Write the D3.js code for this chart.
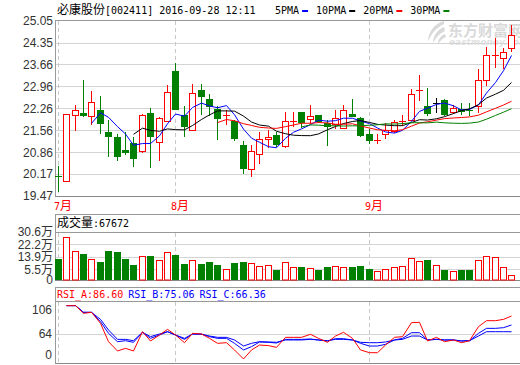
<!DOCTYPE html>
<html>
<head>
<meta charset="utf-8">
<script src="https://cdn.jsdelivr.net/npm/d3@7"></script>
<style>
  body { margin: 0; background: #fff; }
  svg { display: block; }
</style>
</head>
<body>
<svg id="chart" width="520" height="365"></svg>
<script>
// 必康股份 daily candles, 2016-07-12 .. 2016-09-28
const dates = [
  "2016-07-12","2016-07-13","2016-07-14","2016-07-15","2016-07-18","2016-07-19","2016-07-20",
  "2016-07-21","2016-07-22","2016-07-25","2016-07-26","2016-07-27","2016-07-28","2016-07-29",
  "2016-08-01","2016-08-02","2016-08-03","2016-08-04","2016-08-05","2016-08-08","2016-08-09",
  "2016-08-10","2016-08-11","2016-08-12","2016-08-15","2016-08-16","2016-08-17","2016-08-18",
  "2016-08-19","2016-08-22","2016-08-23","2016-08-24","2016-08-25","2016-08-26","2016-08-29",
  "2016-08-30","2016-08-31","2016-09-01","2016-09-02","2016-09-05","2016-09-06","2016-09-07",
  "2016-09-08","2016-09-09","2016-09-12","2016-09-13","2016-09-14","2016-09-19","2016-09-20",
  "2016-09-21","2016-09-22","2016-09-23","2016-09-26","2016-09-27","2016-09-28"
]
const open = [
  20.10,19.94,22.04,22.12,22.01,22.22,21.52,21.36,20.94,21.15,20.90,22.12,21.19,21.86,
  23.43,22.03,21.58,22.83,22.54,22.25,22.04,21.85,21.09,20.32,20.80,21.28,21.41,21.05,
  21.85,22.14,21.92,22.03,21.79,21.77,21.63,22.09,21.95,21.44,21.25,21.43,21.53,21.85,
  21.89,22.81,22.34,22.42,22.52,22.13,22.23,22.22,22.34,23.16,23.93,23.87,24.17
]
const high = [
  20.43,22.09,22.35,23.15,22.80,22.64,21.90,21.43,21.52,21.35,22.09,22.27,21.99,22.99,
  23.69,22.33,23.03,23.03,22.70,22.33,22.22,21.90,21.23,21.09,21.52,21.58,21.50,22.13,
  22.13,22.14,22.37,22.05,21.90,22.22,22.35,22.54,21.99,21.60,21.45,21.79,21.90,22.03,
  22.88,23.31,22.91,22.58,22.55,22.36,22.42,22.42,23.50,24.22,24.48,24.17,24.91
]
const low = [
  19.64,19.94,21.56,22.01,21.76,21.46,20.73,20.60,20.82,20.41,20.86,20.38,20.60,21.86,
  22.23,21.39,21.56,22.09,22.05,21.28,21.77,21.26,20.21,20.09,20.53,21.03,21.07,21.03,
  21.71,21.67,21.80,21.82,21.09,21.63,21.63,22.00,21.37,21.17,21.15,21.30,21.50,21.74,
  21.89,22.51,22.05,22.15,22.05,22.10,22.07,22.05,22.15,23.00,23.58,23.55,24.08
]
const close = [
  20.09,22.09,22.21,22.04,22.46,21.78,21.37,20.73,20.86,20.68,22.05,21.37,21.95,22.78,
  22.23,21.71,22.75,22.65,22.33,21.94,22.05,21.30,20.36,20.90,21.28,21.35,21.13,21.86,
  21.86,21.82,22.02,21.85,21.69,21.95,22.21,22.01,21.42,21.26,21.26,21.58,21.83,21.86,
  22.70,22.83,22.10,22.42,22.08,22.26,22.17,22.17,23.16,23.95,23.95,24.04,24.59
]
// volume in 万
const volume = [
  12.4,27.0,17.8,15.8,12.2,10.4,17.8,17.1,12.4,8.4,14.5,14.5,11.6,17.0,
  15.1,9.1,11.6,9.1,10.4,8.4,5.5,9.7,10.4,9.7,7.7,8.2,5.0,10.2,
  6.8,6.8,6.2,5.0,6.8,7.5,6.8,6.8,7.5,5.5,4.2,5.9,6.8,7.5,
  13.0,10.9,11.8,8.2,5.0,4.2,5.0,5.0,11.6,14.2,13.6,6.8,1.5
]
const rsiA = [
  null,100,100,90.1,91.4,77.2,53.5,41.5,44.9,41.5,66.4,54.4,62.1,69.4,
  62.1,52.2,64.3,63.4,57.8,51.4,52.2,42.8,31.2,42.8,49.2,48.4,46.2,59.1,
  59.1,59.1,63.0,57.8,52.7,60.8,65.6,57.8,42.8,39.3,39.3,49.2,59.1,60.0,
  78.0,78.5,54.4,59.1,53.5,55.7,52.2,54.8,72.9,80.6,80.6,82.3,86.60
]
const rsiB = [
  null,100,100,91.4,91.4,79.3,64.3,53.5,54.8,52.7,65.6,57.8,62.1,66.4,
  62.1,56.5,63.4,63.4,60.0,57.8,57.8,51.4,42.8,47.1,53.1,52.7,51.8,56.5,
  56.5,56.5,57.0,55.7,54.4,57.4,57.4,55.7,51.4,47.9,47.9,50.1,55.7,57.8,
  65.1,65.1,55.7,56.5,55.7,55.7,54.4,54.8,64.3,70.7,70.7,71.6,75.06
]
const rsiC = [
  null,100,100,91.4,91.4,82.3,68.6,56.5,56.5,54.8,65.6,60.0,63.4,66.4,
  62.1,57.8,63.4,63.0,60.8,59.1,59.1,55.7,47.9,51.4,53.5,53.1,52.7,55.7,
  55.7,55.7,56.5,55.7,54.8,56.5,56.5,55.7,52.7,52.2,52.2,53.1,55.7,56.5,
  60.8,60.8,55.7,56.5,55.7,55.7,54.4,54.8,60.8,66.4,66.4,66.4,66.36
]

const priceTicks = [25.05, 24.35, 23.66, 22.96, 22.26, 21.56, 20.86, 20.17, 19.47]
const volTicks = [30.6, 22.2, 13.9, 5.5, 0]
const rsiTicks = [106, 64, 0]

const maPeriods = [5, 10, 20, 30]
const maNames = ["5PMA", "10PMA", "20PMA", "30PMA"]
const maColors = ["#0000ff", "#000000", "#ff0000", "#008000"]

const rsiSeries = [rsiA, rsiB, rsiC]
const rsiNames = ["RSI_A", "RSI_B", "RSI_C"]
const rsiColors = ["#ff0000", "#0000ff", "#0000ff"]

const title = "必康股份[002411] 2016-09-28 12:11"
const lastVolume = "67672"

const RED = "#ff0000", GREEN = "#008000"
const n = close.length

const svg = d3.select("#chart")

// text with CJK runs in 12px and latin runs in a 6px wide mono
function mixText(g, str, x, y, color) {
  const t = g.append("text").attr("x", x).attr("y", y).attr("fill", color)
  const runs = str.match(/[\u3000-\u9fff\uff00-\uffef]+|[^\u3000-\u9fff\uff00-\uffef]+/g)
  runs.forEach(r => {
    const cjk = /[\u3000-\u9fff\uff00-\uffef]/.test(r)
    t.append("tspan")
      .style("font-family", cjk ? "'Noto Sans CJK SC'" : "'DejaVu Sans Mono'")
      .style("font-size", cjk ? "12px" : "10px")
      .style("white-space", "pre")
      .text(r)
  })
  return t
}

const x = d3.scaleBand().domain(d3.range(n)).range([54.1, 54.1 + 8.4 * n])
const cx = i => Math.floor(x(i) + x.bandwidth() / 2)

const y = d3.scaleLinear().domain([19.47, 25.05]).range([196, 20.5])
const yV = d3.scaleLinear().domain([-1.7, 30.6]).range([280, 232])
const yR = d3.scaleLinear().domain([26, 106]).range([363, 301])

// moving averages
const ma = maPeriods.map(p => close.map((c, i) => i < p - 1 ? null : d3.mean(close.slice(i - p + 1, i + 1))))

const FRAME = "#999", GRID = "#d4d4d4", LABEL = "#333"

// ---------- watermark
const wm = svg.append("g").attr("fill", "#d9d9d9")
wm.append("path")
  .attr("d", "M444,21 C434,24 428,32 428,42 C431,34 436,28 444,24 Z M444,27 C437,30 433,36 433,43 C436,37 440,33 445,31 Z M445,34 C440,36 438,40 438,44 C441,40 443,38 446,37 Z")
wm.append("text").attr("x", 448).attr("y", 36)
  .style("font-family", "'Noto Sans CJK SC'").style("font-size", "15px").style("font-weight", "bold")
  .text("东方财富网")
wm.append("text").attr("x", 449).attr("y", 45)
  .style("font-family", "'DejaVu Sans'").style("font-size", "9px").style("font-weight", "bold").style("font-style", "italic")
  .attr("fill", "#e2e2e2")
  .text("eastmoney.com")

// ---------- header
mixText(svg, title, 57, 14, "#000")
let lx = 275
maNames.forEach((nm, k) => {
  mixText(svg, nm, lx, 14, "#000")
  const w = nm.length * 6.02
  svg.append("rect").attr("x", lx + w + 3).attr("y", 10).attr("width", 6).attr("height", 2).attr("fill", maColors[k])
  lx += w + 17
})

// ---------- main panel grid
const main = svg.append("g")
main.selectAll("line.grid").data(priceTicks.slice(1, -1)).join("line")
  .attr("class", "grid")
  .attr("x1", 55).attr("x2", 520)
  .attr("y1", d => Math.round(y(d)) + 0.5).attr("y2", d => Math.round(y(d)) + 0.5)
  .attr("stroke", GRID)
main.selectAll("text.tick").data(priceTicks).join("text")
  .attr("class", "tick")
  .attr("x", 53).attr("y", d => y(d)).attr("dy", "0.36em")
  .attr("text-anchor", "end").attr("fill", LABEL)
  .style("font-family", "'Liberation Sans', Arial").style("font-size", "12px")
  .text(d => d.toFixed(2))

// month separators
const monthStarts = d3.range(n).filter(i => i === 0 || dates[i].slice(5, 7) !== dates[i - 1].slice(5, 7))
const dashed = (y1, y2) => svg.append("g").selectAll("line").data(monthStarts).join("line")
  .attr("x1", i => cx(i) + 0.5).attr("x2", i => cx(i) + 0.5)
  .attr("y1", y1).attr("y2", y2)
  .attr("stroke", "#c8c8c8").attr("stroke-dasharray", "4,3")
dashed(21, 196)
dashed(233, 280)
dashed(302, 363)
monthStarts.forEach(i => mixText(svg, (+dates[i].slice(5, 7)) + "月", cx(i) - 4, 210, RED))

// frame lines
const hline = (y0, c) => svg.append("line").attr("x1", 55).attr("x2", 520).attr("y1", y0 + 0.5).attr("y2", y0 + 0.5).attr("stroke", c)
const vline = (y1, y2) => svg.append("line").attr("x1", 55.5).attr("x2", 55.5).attr("y1", y1).attr("y2", y2).attr("stroke", FRAME)
hline(20, FRAME); hline(196, "#888"); vline(20, 196)

// candles
const cg = svg.append("g")
d3.range(n).forEach(i => {
  const o = open[i], c = close[i]
  const col = c > o ? RED : (c < o ? GREEN : "#000")
  const xc = cx(i)
  cg.append("line")
    .attr("x1", xc + 0.5).attr("x2", xc + 0.5)
    .attr("y1", Math.round(y(high[i]))).attr("y2", Math.round(y(low[i])) + 1)
    .attr("stroke", col)
  const top = Math.round(y(Math.max(o, c))), bot = Math.round(y(Math.min(o, c)))
  if (bot - top < 2) {
    cg.append("line").attr("x1", xc - 3).attr("x2", xc + 4)
      .attr("y1", top + 0.5).attr("y2", top + 0.5).attr("stroke", col)
  } else if (c > o) {
    cg.append("rect").attr("x", xc - 2.5).attr("y", top + 0.5)
      .attr("width", 6).attr("height", bot - top)
      .attr("fill", "#fff").attr("stroke", RED)
  } else {
    cg.append("rect").attr("x", xc - 3).attr("y", top)
      .attr("width", 7).attr("height", bot - top + 1)
      .attr("fill", GREEN)
  }
})

// moving averages
ma.forEach((s, k) => {
  svg.append("path")
    .datum(s.map((v, i) => [i, v]).filter(d => d[1] !== null))
    .attr("fill", "none").attr("stroke", maColors[k]).attr("stroke-width", 1)
    .attr("d", d3.line().x(d => cx(d[0]) + 0.5).y(d => y(d[1])))
})

// ---------- volume panel
hline(214, FRAME); hline(232, FRAME); hline(280, "#888"); vline(214, 280)
svg.append("g").selectAll("line").data(volTicks.slice(1, -1)).join("line")
  .attr("x1", 56).attr("x2", 520)
  .attr("y1", d => Math.round(yV(d)) + 0.5).attr("y2", d => Math.round(yV(d)) + 0.5)
  .attr("stroke", GRID)
svg.append("g").selectAll("text").data(volTicks).join("text")
  .attr("x", 53).attr("y", d => d === 0 ? yV.range()[0] : yV(d)).attr("dy", "0.36em")
  .attr("text-anchor", "end").attr("fill", LABEL)
  .style("font-family", "'Liberation Sans', Arial, 'Noto Sans CJK SC'").style("font-size", "12px")
  .text(d => d === 0 ? "0" : d.toFixed(1) + "万")
mixText(svg, "成交量:" + lastVolume, 57, 227, "#000")

const vg = svg.append("g")
volume.forEach((v, i) => {
  const xc = cx(i)
  const top = Math.round(yV(v))
  if (close[i] >= open[i]) {
    vg.append("rect").attr("x", xc - 2.5).attr("y", top + 0.5)
      .attr("width", 6).attr("height", 280 - top - 0.5)
      .attr("fill", "#fff").attr("stroke", RED)
  } else {
    vg.append("rect").attr("x", xc - 3).attr("y", top)
      .attr("width", 7).attr("height", 280 - top)
      .attr("fill", GREEN)
  }
})

// ---------- rsi panel
hline(287, FRAME); hline(301, FRAME); hline(363, "#888"); vline(287, 363)
svg.append("line").attr("x1", 56).attr("x2", 520)
  .attr("y1", Math.round(yR(64)) + 0.5).attr("y2", Math.round(yR(64)) + 0.5)
  .attr("stroke", GRID)
svg.append("g").selectAll("text").data(rsiTicks).join("text")
  .attr("x", 52).attr("y", d => Math.max(310, Math.min(355, yR(d)))).attr("dy", "0.36em")
  .attr("text-anchor", "end").attr("fill", LABEL)
  .style("font-family", "'Liberation Sans', Arial").style("font-size", "12px")
  .text(d => d)

let rx = 57
rsiNames.forEach((nm, k) => {
  const s = nm + ":" + d3.format(".2f")(rsiSeries[k][n - 1])
  mixText(svg, s, rx, 298, rsiColors[k])
  rx += (s.length + 1) * 6.02 - 1
})

;[2, 1, 0].forEach(k => {
  svg.append("path")
    .datum(rsiSeries[k].map((v, i) => [i, v]).filter(d => d[1] !== null))
    .attr("fill", "none").attr("stroke", rsiColors[k]).attr("stroke-width", 1)
    .attr("d", d3.line().x(d => cx(d[0]) + 0.5).y(d => yR(d[1])))
})
</script>
</body>
</html>
